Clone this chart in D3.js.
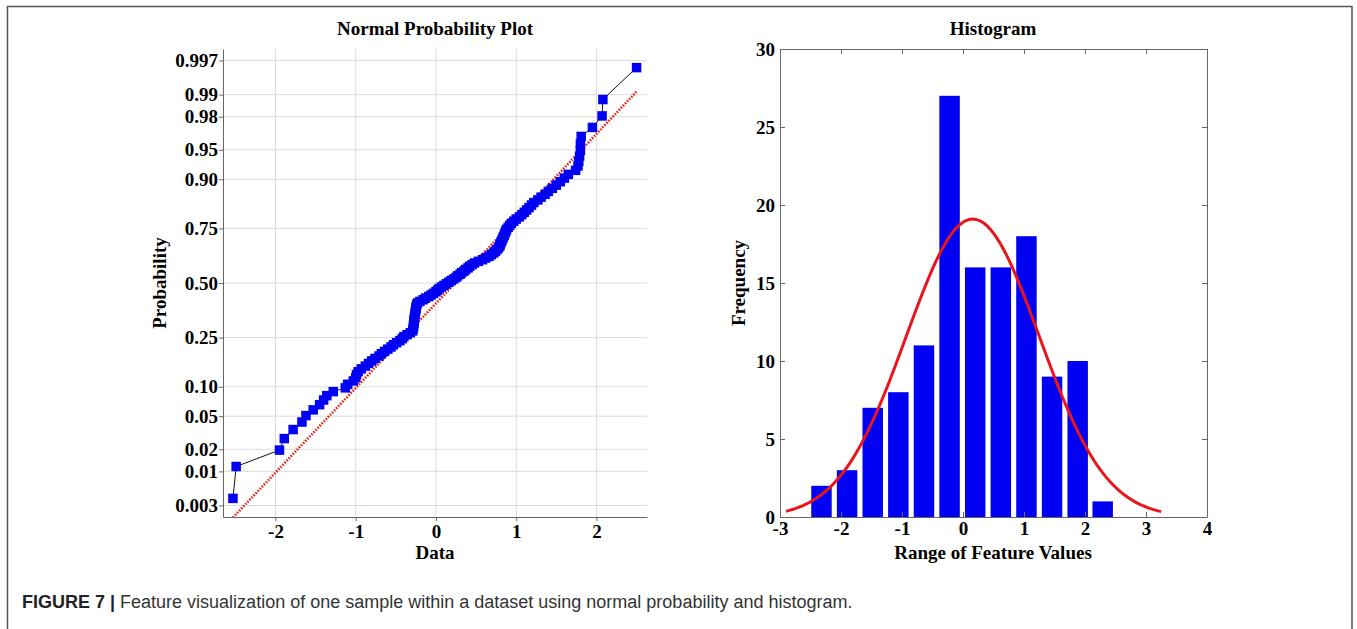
<!DOCTYPE html>
<html>
<head>
<meta charset="utf-8">
<script src="https://cdn.jsdelivr.net/npm/d3@7"></script>
<style>
  body { margin: 0; background: #fff; }
  .ax text { font-family: "Liberation Serif", "Times New Roman", serif; font-weight: bold; font-size: 19px; fill: #000; }
  .ax path, .ax line { stroke: #666; }
  .lbl { font-family: "Liberation Serif", "Times New Roman", serif; font-weight: bold; font-size: 19px; fill: #000; }
</style>
</head>
<body>
<script>
// sorted sample values (normal probability plot)
var sampleValues = [
  -2.53, -2.49, -1.95, -1.89, -1.78, -1.67, -1.62, -1.53, -1.45, -1.40,
  -1.36, -1.28, -1.13, -1.10, -1.03, -1.00, -0.99, -0.97, -0.93, -0.88,
  -0.84, -0.80, -0.76, -0.71, -0.68, -0.64, -0.60, -0.56, -0.53, -0.49,
  -0.45, -0.42, -0.40, -0.36, -0.32, -0.29, -0.285, -0.28, -0.28, -0.275,
  -0.275, -0.27, -0.27, -0.265, -0.26, -0.26, -0.255, -0.25, -0.25, -0.245,
  -0.24, -0.23, -0.20, -0.16, -0.13, -0.09, -0.06, -0.03, 0.00, 0.02,
  0.04, 0.07, 0.10, 0.13, 0.16, 0.19, 0.22, 0.25, 0.27, 0.30,
  0.32, 0.35, 0.37, 0.40, 0.42, 0.45, 0.48, 0.53, 0.58, 0.62,
  0.66, 0.69, 0.72, 0.74, 0.76, 0.78, 0.795, 0.80, 0.81, 0.82,
  0.83, 0.84, 0.85, 0.86, 0.87, 0.88, 0.90, 0.92, 0.94, 0.97,
  1.00, 1.04, 1.07, 1.10, 1.13, 1.16, 1.19, 1.22, 1.27, 1.31,
  1.36, 1.40, 1.45, 1.50, 1.55, 1.60, 1.65, 1.74, 1.77, 1.78,
  1.79, 1.80, 1.80, 1.81, 1.95, 2.07, 2.08, 2.50
];
var probTicks  = [0.003, 0.01, 0.02, 0.05, 0.10, 0.25, 0.50, 0.75, 0.90, 0.95, 0.98, 0.99, 0.997];
var probLabels = ["0.003","0.01","0.02","0.05","0.10","0.25","0.50","0.75","0.90","0.95","0.98","0.99","0.997"];
var dataTicks  = [-2, -1, 0, 1, 2];

// histogram
var binCenters = [-2.32, -1.90, -1.48, -1.06, -0.64, -0.22, 0.20, 0.62, 1.04, 1.46, 1.88, 2.29];
var binCounts  = [2, 3, 7, 8, 11, 27, 16, 16, 18, 9, 10, 1];
var freqTicks  = [0, 5, 10, 15, 20, 25, 30];
var rangeTicks = [-3, -2, -1, 0, 1, 2, 3, 4];
// fitted normal curve
var fitMu = 0.16, fitSigma = 1.09, fitPeak = 19.1, fitFrom = -2.9, fitTo = 3.25;

// inverse normal cdf (Acklam)
function probit(p){
  var a=[-3.969683028665376e+01,2.209460984245205e+02,-2.759285104469687e+02,1.383577518672690e+02,-3.066479806614716e+01,2.506628277459239e+00];
  var b=[-5.447609879822406e+01,1.615858368580409e+02,-1.556989798598866e+02,6.680131188771972e+01,-1.328068155288572e+01];
  var c=[-7.784894002430293e-03,-3.223964580411365e-01,-2.400758277161838e+00,-2.549732539343734e+00,4.374664141464968e+00,2.938163982698783e+00];
  var d=[7.784695709041462e-03,3.224671290700398e-01,2.445134137142996e+00,3.754408661907416e+00];
  var q, r;
  if (p < 0.02425) {
    q = Math.sqrt(-2*Math.log(p));
    return (((((c[0]*q+c[1])*q+c[2])*q+c[3])*q+c[4])*q+c[5])/((((d[0]*q+d[1])*q+d[2])*q+d[3])*q+1);
  }
  if (p > 1-0.02425) {
    q = Math.sqrt(-2*Math.log(1-p));
    return -(((((c[0]*q+c[1])*q+c[2])*q+c[3])*q+c[4])*q+c[5])/((((d[0]*q+d[1])*q+d[2])*q+d[3])*q+1);
  }
  q = p-0.5; r = q*q;
  return (((((a[0]*r+a[1])*r+a[2])*r+a[3])*r+a[4])*r+a[5])*q/(((((b[0]*r+b[1])*r+b[2])*r+b[3])*r+b[4])*r+1);
}

var svg = d3.select("body").append("svg")
  .attr("width", 1357)
  .attr("height", 629);

// outer frame
svg.append("rect")
  .attr("x", 7.5).attr("y", 6.5)
  .attr("width", 1344.5).attr("height", 700)
  .attr("fill", "none").attr("stroke", "#555").attr("stroke-width", 1.5);

// ---------- normal probability plot ----------
var x1 = d3.scaleLinear().domain([-2.654, 2.63]).range([223, 647]);
var y1 = d3.scaleLinear().domain([-2.89, 2.89]).range([517, 49]);
var n = sampleValues.length;
var points = sampleValues.map(function(v, i) { return {x: v, z: probit((i + 0.5) / n)}; });

var g1 = svg.append("g");
g1.append("clipPath").attr("id", "clip1").append("rect")
  .attr("x", 223).attr("y", 49).attr("width", 424).attr("height", 468);

g1.selectAll(".vgrid").data(dataTicks).enter().append("line")
  .attr("x1", function(d) { return x1(d); }).attr("x2", function(d) { return x1(d); })
  .attr("y1", 49).attr("y2", 517)
  .attr("stroke", "#dcdcdc");
g1.selectAll(".hgrid").data(probTicks).enter().append("line")
  .attr("x1", 223).attr("x2", 647)
  .attr("y1", function(d) { return y1(probit(d)); }).attr("y2", function(d) { return y1(probit(d)); })
  .attr("stroke", "#dcdcdc");

// reference line through the quartiles
var q1 = d3.quantile(sampleValues, 0.25), q3 = d3.quantile(sampleValues, 0.75);
var zq = probit(0.75);
var slope = 2 * zq / (q3 - q1), mid = (q1 + q3) / 2;
var ends = [sampleValues[0], sampleValues[n - 1]];
g1.append("line")
  .attr("clip-path", "url(#clip1)")
  .attr("x1", x1(ends[0])).attr("y1", y1(slope * (ends[0] - mid)))
  .attr("x2", x1(ends[1])).attr("y2", y1(slope * (ends[1] - mid)))
  .attr("stroke", "#e2261c").attr("stroke-width", 2.6).attr("stroke-dasharray", "1.6,1.4");

g1.append("path")
  .datum(points)
  .attr("fill", "none").attr("stroke", "#111").attr("stroke-width", 1)
  .attr("d", d3.line().x(function(d) { return x1(d.x); }).y(function(d) { return y1(d.z); }));

g1.selectAll("rect.pt").data(points).enter().append("rect")
  .attr("class", "pt")
  .attr("x", function(d) { return x1(d.x) - 4.75; })
  .attr("y", function(d) { return y1(d.z) - 4.75; })
  .attr("width", 9.5).attr("height", 9.5)
  .attr("fill", "#0000f2");

g1.append("g").attr("class", "ax")
  .attr("transform", "translate(223,0)")
  .call(d3.axisLeft(y1).tickValues(probTicks.map(probit))
    .tickFormat(function(d, i) { return probLabels[i]; })
    .tickSize(4).tickSizeOuter(0).tickPadding(1));
g1.append("g").attr("class", "ax")
  .attr("transform", "translate(0,517)")
  .call(d3.axisBottom(x1).tickValues(dataTicks)
    .tickFormat(function(d) { return String(d); })
    .tickSize(4).tickSizeOuter(0).tickPadding(4));

g1.append("text").attr("class", "lbl").attr("x", 435).attr("y", 35)
  .attr("text-anchor", "middle").text("Normal Probability Plot");
g1.append("text").attr("class", "lbl").attr("x", 435).attr("y", 559)
  .attr("text-anchor", "middle").text("Data");
g1.append("text").attr("class", "lbl")
  .attr("transform", "translate(166,283) rotate(-90)")
  .attr("text-anchor", "middle").text("Probability");

// ---------- histogram ----------
var x2 = d3.scaleLinear().domain([-3, 4]).range([780, 1207]);
var y2 = d3.scaleLinear().domain([0, 30]).range([517, 49]);
var halfBar = 0.1676;
var g2 = svg.append("g");

g2.selectAll("rect.bar").data(binCounts).enter().append("rect")
  .attr("class", "bar")
  .attr("x", function(d, i) { return x2(binCenters[i] - halfBar); })
  .attr("width", function(d, i) { return x2(binCenters[i] + halfBar) - x2(binCenters[i] - halfBar); })
  .attr("y", function(d) { return y2(d); })
  .attr("height", function(d) { return y2(0) - y2(d); })
  .attr("fill", "#0000f2");

var fitPts = d3.range(fitFrom, fitTo + 1e-9, 0.05).map(function(x) {
  return {x: x, y: fitPeak * Math.exp(-0.5 * Math.pow((x - fitMu) / fitSigma, 2))};
});
g2.append("path").datum(fitPts)
  .attr("fill", "none").attr("stroke", "#e8161c").attr("stroke-width", 3)
  .attr("d", d3.line().x(function(d) { return x2(d.x); }).y(function(d) { return y2(d.y); }));

g2.append("g").attr("class", "ax").attr("transform", "translate(780,0)")
  .call(d3.axisLeft(y2).tickValues(freqTicks).tickSize(-5).tickSizeOuter(0).tickPadding(5));
g2.append("g").attr("class", "ax").attr("transform", "translate(1207,0)")
  .call(d3.axisRight(y2).tickValues(freqTicks).tickSize(-5).tickSizeOuter(0).tickFormat(""));
g2.append("g").attr("class", "ax").attr("transform", "translate(0,517)")
  .call(d3.axisBottom(x2).tickValues(rangeTicks)
    .tickFormat(function(d) { return String(d); })
    .tickSize(-5).tickSizeOuter(0).tickPadding(5));
g2.append("g").attr("class", "ax").attr("transform", "translate(0,49)")
  .call(d3.axisTop(x2).tickValues(rangeTicks).tickSize(-5).tickSizeOuter(0).tickFormat(""));

g2.append("text").attr("class", "lbl").attr("x", 993).attr("y", 35)
  .attr("text-anchor", "middle").text("Histogram");
g2.append("text").attr("class", "lbl").attr("x", 993).attr("y", 559)
  .attr("text-anchor", "middle").text("Range of Feature Values");
g2.append("text").attr("class", "lbl")
  .attr("transform", "translate(745,283) rotate(-90)")
  .attr("text-anchor", "middle").text("Frequency");

// caption
var cap = svg.append("text").attr("x", 22).attr("y", 608)
  .style("font-family", "'Liberation Sans', Arial, sans-serif").style("font-size", "18px");
cap.append("tspan").attr("font-weight", "bold").attr("fill", "#222").text("FIGURE 7 | ");
cap.append("tspan").attr("fill", "#333")
  .text("Feature visualization of one sample within a dataset using normal probability and histogram.");
</script>
</body>
</html>
